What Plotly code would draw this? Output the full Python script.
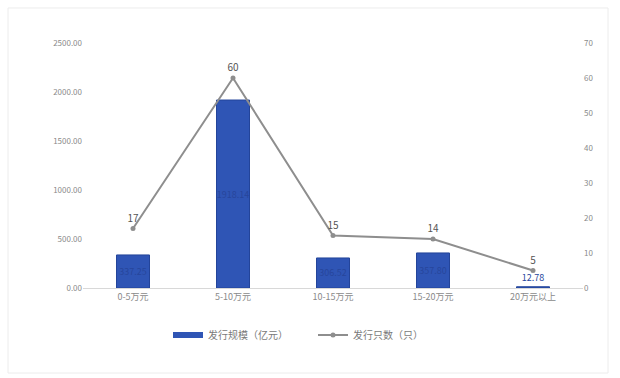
import plotly.graph_objects as go

categories = ["0-5万元", "5-10万元", "10-15万元", "15-20万元", "20万元以上"]
scale_values = [337.25, 1918.14, 306.52, 357.80, 12.78]   # 发行规模（亿元）
count_values = [17, 60, 15, 14, 5]                         # 发行只数（只）
left_ticks = [0, 500, 1000, 1500, 2000, 2500]
right_ticks = [0, 10, 20, 30, 40, 50, 60, 70]

font_family = "Noto Sans CJK SC, Noto Sans, sans-serif"
axis_color = "#8a8a8a"
bar_color = "#2f55b5"

fig = go.Figure()

bar_text = [f"{v:.2f}" for v in scale_values]
bar_pos = ["inside", "inside", "inside", "inside", "outside"]
fig.add_trace(go.Bar(
    x=categories, y=scale_values, name="发行规模（亿元）",
    marker=dict(color=bar_color, line=dict(color="#23449a", width=1)),
    text=bar_text, textposition=bar_pos, insidetextanchor="middle",
    textangle=0, constraintext="none",
    textfont=dict(size=9, color="#27469c"),
    cliponaxis=False, showlegend=False,
    yaxis="y",
))

# legend entry for the bars drawn as a wide flat swatch
fig.add_trace(go.Scatter(
    x=[None], y=[None], mode="lines", name="发行规模（亿元）",
    line=dict(color=bar_color, width=6), yaxis="y",
))

fig.add_trace(go.Scatter(
    x=categories, y=count_values, name="发行只数（只）",
    mode="lines+markers+text",
    line=dict(color="#8e8e8e", width=2),
    marker=dict(color="#8e8e8e", size=5),
    text=[str(v) for v in count_values], textposition="top center",
    textfont=dict(size=10, color="#555555"),
    cliponaxis=False,
    yaxis="y2",
))

fig.update_layout(
    width=620, height=378,
    margin=dict(l=83, r=37, t=43, b=90),
    paper_bgcolor="white", plot_bgcolor="white",
    font=dict(family=font_family, size=8, color=axis_color),
    bargap=0.67,
    showlegend=True,
    legend=dict(orientation="h", x=0.17, xanchor="left", y=-0.192, yanchor="middle",
                font=dict(size=10, color="#7a7a7a"), itemwidth=30,
                entrywidth=100),
    xaxis=dict(showgrid=False, showline=True, linecolor="#d8d8d8", ticks="",
               tickfont=dict(size=9, color=axis_color)),
    yaxis=dict(range=[0, 2500], tickvals=left_ticks,
               ticktext=[f"{t:.2f}" for t in left_ticks],
               showgrid=False, zeroline=False, showline=False,
               tickfont=dict(size=8, color=axis_color)),
    yaxis2=dict(range=[0, 70], tickvals=right_ticks, overlaying="y", side="right",
                showgrid=False, zeroline=False, showline=False,
                tickfont=dict(size=8, color=axis_color)),
    shapes=[dict(type="rect", xref="paper", yref="paper",
                 x0=-0.15, x1=1.05, y0=-0.347, y1=1.143,
                 line=dict(color="#ececec", width=1))],
)

fig.write_html("out.html")
